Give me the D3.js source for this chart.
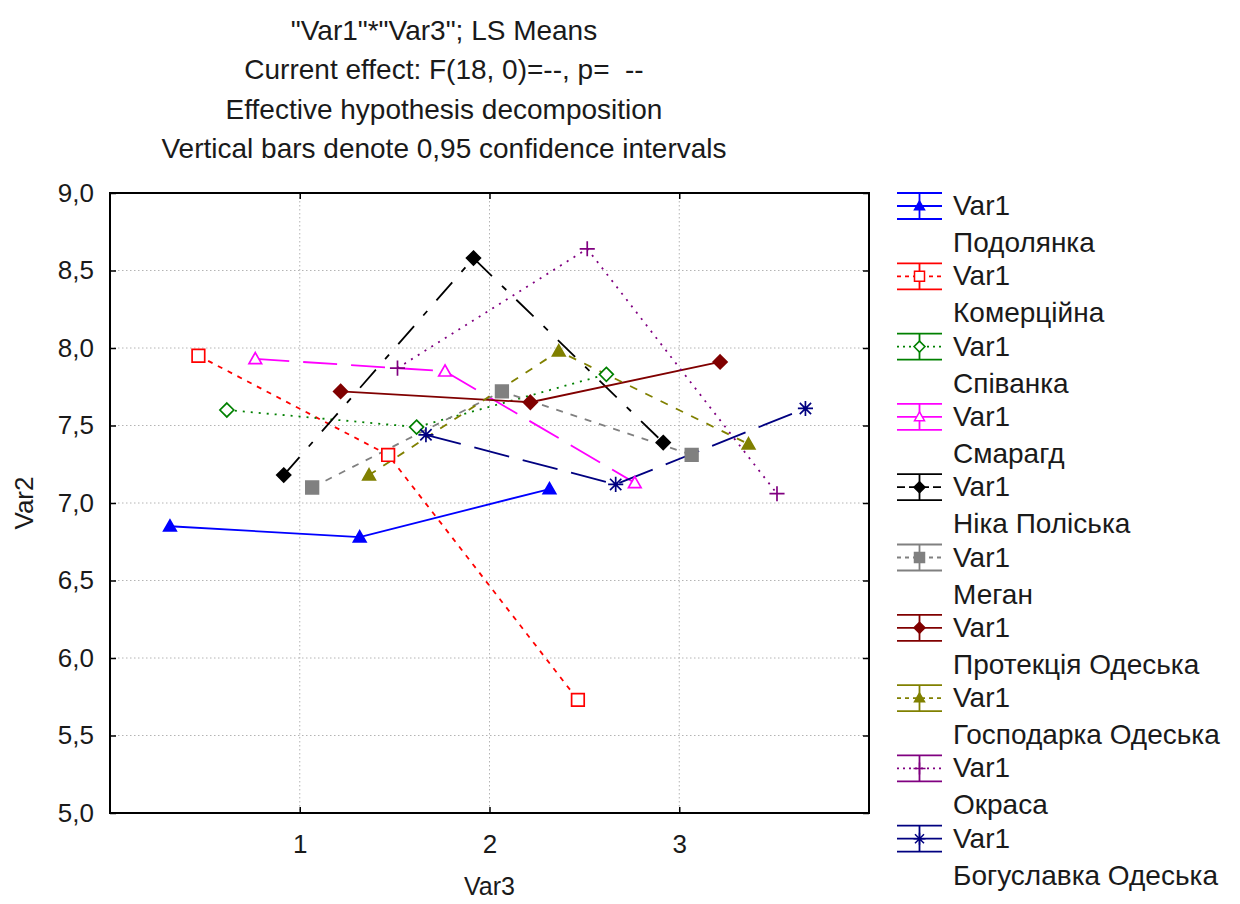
<!DOCTYPE html>
<html>
<head>
<meta charset="utf-8">
<script src="https://cdn.jsdelivr.net/npm/d3@7"></script>
<style>
  html, body { margin: 0; padding: 0; background: #fff; }
  svg { display: block; }
  text { font-family: "Liberation Sans", Arial, sans-serif; fill: #1a1a1a; white-space: pre; }
</style>
</head>
<body>
<svg id="chart" width="1240" height="904"></svg>
<script>
// ---------- data ----------
const categories = [1, 2, 3];
const seriesNames = ["Подолянка", "Комерційна", "Співанка", "Смарагд", "Ніка Поліська",
  "Меган", "Протекція Одеська", "Господарка Одеська", "Окраса", "Богуславка Одеська"];
const podolianka   = [6.85, 6.78, 7.09];
const komertsiina  = [7.95, 7.31, 5.73];
const spivanka     = [7.60, 7.49, 7.83];
const smarahd      = [7.93, 7.85, 7.13];
const nikaPoliska  = [7.18, 8.58, 7.39];
const mehan        = [7.10, 7.72, 7.31];
const protektsiia  = [7.72, 7.65, 7.91];
const hospodarka   = [7.18, 7.98, 7.38];
const okrasa       = [7.87, 8.64, 7.06];
const bohuslavka   = [7.44, 7.12, 7.61];
const seriesValues = [podolianka, komertsiina, spivanka, smarahd, nikaPoliska,
  mehan, protektsiia, hospodarka, okrasa, bohuslavka];
const yTicks = [5.0, 5.5, 6.0, 6.5, 7.0, 7.5, 8.0, 8.5, 9.0];
const titleLines = ['"Var1"*"Var3"; LS Means', 'Current effect: F(18, 0)=--, p=  --',
  'Effective hypothesis decomposition', 'Vertical bars denote 0,95 confidence intervals'];

// ---------- styles ----------
const colors  = ["#0000ff", "#ff0000", "#008000", "#ff00ff", "#000000",
  "#808080", "#800000", "#808000", "#800080", "#000080"];
const dashes  = [null, "5,6", "2,6", "34,14", "24,14,6,14", "7,8", null, "8,9", "2,6", "36,14"];
const legendDashes = [null, "4,4", "2,4", null, "8,4", "4,4", null, "4,4", "2,4", null];
const markers = ["triangle", "square", "diamond", "triangle", "diamond",
  "square", "diamond", "triangle", "plus", "asterisk"];
const filled  = [true, false, false, false, true, true, true, true, false, false];

function markerPath(type, s) {
  switch (type) {
    case "triangle": return `M0,${-s}L${s},${s*0.75}L${-s},${s*0.75}Z`;
    case "square":   return `M${-s},${-s}H${s}V${s}H${-s}Z`;
    case "diamond":  return `M0,${-s*1.1}L${s*1.1},0L0,${s*1.1}L${-s*1.1},0Z`;
    case "plus":     return `M${-s*1.2},0H${s*1.2}M0,${-s*1.2}V${s*1.2}`;
    case "asterisk": { const d = s*0.9; return `M${-s*1.2},0H${s*1.2}M0,${-s*1.2}V${s*1.2}M${-d},${-d}L${d},${d}M${-d},${d}L${d},${-d}`; }
  }
}

// ---------- layout ----------
const svg = d3.select("#chart");
const L = 110, R = 869, T = 193, B = 813;
const x = d3.scaleLinear().domain([0, 4]).range([L, R]);
const y = d3.scaleLinear().domain([5, 9]).range([B, T]);
const offset = d3.scalePoint().domain(seriesNames).range([-0.684, 0.665]);
const fmt = d => d.toFixed(1).replace(".", ",");

// title
svg.append("g").selectAll("text").data(titleLines).join("text")
  .attr("x", 444).attr("y", (d, i) => 40 + i * 39.3)
  .attr("text-anchor", "middle").attr("xml:space", "preserve")
  .style("font-size", "28px").text(d => d);

// grid
const grid = svg.append("g").attr("stroke", "#b4b4b4").attr("stroke-dasharray", "1.5,2.5").attr("stroke-width", 1);
grid.selectAll("line.h").data(yTicks.slice(1, -1)).join("line").attr("class", "h")
  .attr("x1", L).attr("x2", R).attr("y1", d => y(d)).attr("y2", d => y(d));
grid.selectAll("line.v").data(categories).join("line").attr("class", "v")
  .attr("x1", d => x(d)).attr("x2", d => x(d)).attr("y1", T).attr("y2", B);

// axes
const axL = svg.append("g").attr("transform", `translate(${L},0)`)
  .call(d3.axisLeft(y).tickValues(yTicks).tickFormat(fmt).tickSizeInner(-6).tickSizeOuter(0).tickPadding(16));
const axB = svg.append("g").attr("transform", `translate(0,${B})`)
  .call(d3.axisBottom(x).tickValues(categories).tickFormat(d3.format("d")).tickSizeInner(-6).tickSizeOuter(0).tickPadding(22));
const axR = svg.append("g").attr("transform", `translate(${R},0)`)
  .call(d3.axisRight(y).tickValues(yTicks).tickFormat("").tickSizeInner(-6).tickSizeOuter(0));
const axT = svg.append("g").attr("transform", `translate(0,${T})`)
  .call(d3.axisTop(x).tickValues(categories).tickFormat("").tickSizeInner(-6).tickSizeOuter(0));
[axL, axB, axR, axT].forEach(a => {
  a.select(".domain").remove();
  a.selectAll(".tick line").attr("stroke", "#000").attr("stroke-width", 1.5);
  a.selectAll(".tick text").style("font-size", "26px").attr("fill", "#1a1a1a");
});

// frame
svg.append("rect").attr("x", L).attr("y", T).attr("width", R - L).attr("height", B - T)
  .attr("fill", "none").attr("stroke", "#000").attr("stroke-width", 2);

// axis titles
svg.append("text").attr("transform", `translate(33,${(T + B) / 2}) rotate(-90)`)
  .attr("text-anchor", "middle").style("font-size", "26px").text("Var2");
svg.append("text").attr("x", x(2)).attr("y", 895).attr("text-anchor", "middle")
  .style("font-size", "25px").text("Var3");

// series
const line = d3.line();
const plot = svg.append("g");
seriesNames.forEach((name, i) => {
  const pts = categories.map((c, j) => [x(c + offset(name)), y(seriesValues[i][j])]);
  plot.append("path").attr("d", line(pts)).attr("fill", "none")
    .attr("stroke", colors[i]).attr("stroke-width", 1.8)
    .attr("stroke-dasharray", dashes[i]);
});
seriesNames.forEach((name, i) => {
  const pts = categories.map((c, j) => [x(c + offset(name)), y(seriesValues[i][j])]);
  plot.append("g").selectAll("path").data(pts).join("path")
    .attr("transform", d => `translate(${d[0]},${d[1]})`)
    .attr("d", markerPath(markers[i], 6.3))
    .attr("fill", (markers[i] === "plus" || markers[i] === "asterisk") ? "none" : (filled[i] ? colors[i] : "#fff"))
    .attr("stroke", colors[i]).attr("stroke-width", 1.7);
});

// legend
const lg = svg.append("g");
seriesNames.forEach((name, i) => {
  const cy = 205 + i * 70.3, cx = 919.5, hw = 22.5, hh = 13;
  const g = lg.append("g").attr("transform", `translate(${cx},${cy + 1})`);
  const st = sel => sel.attr("stroke", colors[i]).attr("stroke-width", 1.8);
  g.append("line").attr("x1", -hw).attr("x2", hw).attr("y1", -hh).attr("y2", -hh).call(st);
  g.append("line").attr("x1", -hw).attr("x2", hw).attr("y1", hh).attr("y2", hh).call(st);
  g.append("line").attr("x1", 0).attr("x2", 0).attr("y1", -hh).attr("y2", hh).call(st);
  g.append("line").attr("x1", -hw).attr("x2", hw).attr("y1", 0).attr("y2", 0).call(st)
    .attr("stroke-dasharray", legendDashes[i]);
  g.append("path").attr("d", markerPath(markers[i], 5))
    .attr("fill", (markers[i] === "plus" || markers[i] === "asterisk") ? "none" : (filled[i] ? colors[i] : "#fff"))
    .attr("stroke", colors[i]).attr("stroke-width", 1.5);
  lg.append("text").attr("x", 953).attr("y", cy).attr("dy", "0.36em").style("font-size", "28px").text("Var1");
  lg.append("text").attr("x", 953).attr("y", cy + 37).attr("dy", "0.36em").style("font-size", "28px").text(name);
});
</script>
</body>
</html>
